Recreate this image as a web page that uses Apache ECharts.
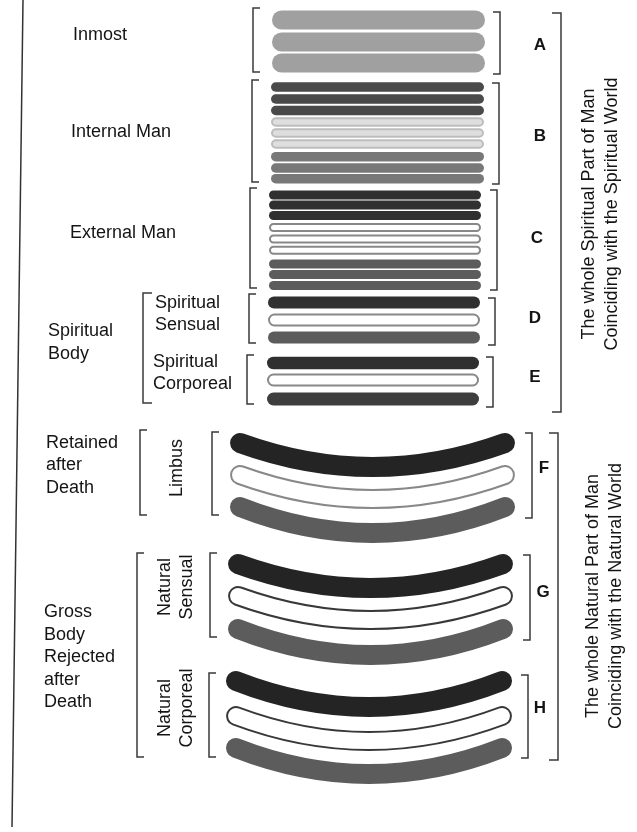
<!DOCTYPE html>
<html><head><meta charset="utf-8">
<script src="https://cdn.jsdelivr.net/npm/echarts@6/dist/echarts.min.js"></script>
<style>html,body{margin:0;padding:0;background:#fff}#c{width:637px;height:832px}</style>
</head><body><div id="c"></div>
<script>
// ---- Diagram data (diagram units = page units) ----
// Flat layers of the spiritual part (groups A-E)
const flatGroupLetters = ['A', 'B', 'C', 'D', 'E'];
const flatGroupLeft = [272, 271, 269, 268, 267];
const flatGroupRight = [485, 484, 481, 480, 479];
const flatCenters = [20, 42, 63,
  87, 99, 110.5, 122, 133, 144, 156.7, 168, 178.7,
  195, 205, 215.5, 227.5, 239, 250.3, 264, 274.5, 285.5,
  302.5, 320, 337.5,
  363, 380, 399];
const flatHeights = [19, 19, 19,
  9.5, 9.5, 9.5, 9.5, 9.5, 9.5, 9.5, 9.5, 9.5,
  9, 9, 9, 9, 9, 9, 9, 9, 9,
  12, 13, 12,
  12.5, 13, 13];
const flatKinds = ['pale', 'pale', 'pale',
  'dark2', 'dark2', 'dark2', 'light', 'light', 'light', 'mid2', 'mid2', 'mid2',
  'dark', 'dark', 'dark', 'outlineLight', 'outlineLight', 'outlineLight', 'mid', 'mid', 'mid',
  'dark', 'outlineLight', 'mid',
  'dark', 'outlineLight', 'darkMid'];
const flatGroupIndex = [0, 0, 0, 1, 1, 1, 1, 1, 1, 1, 1, 1, 2, 2, 2, 2, 2, 2, 2, 2, 2, 3, 3, 3, 4, 4, 4];

// Curved layers of the natural part (groups F-H)
const curveMidY = [467, 499, 533, 588, 620, 655, 707, 741, 774];
const curveSag = [24, 24, 26, 24, 24, 26, 26, 25, 26];
const curveLeft = [240, 240, 240, 238, 238, 238, 236, 236, 236];
const curveRight = [505, 505, 505, 503, 503, 503, 502, 502, 502];
const curveKinds = ['black', 'outlineLight', 'mid', 'black', 'outline', 'mid', 'black', 'outline', 'mid'];

// Group letters
const letterTexts = ['A', 'B', 'C', 'D', 'E', 'F', 'G', 'H'];
const letterX = [540, 540, 537, 535, 535, 544, 543, 540];
const letterY = [45, 136, 238, 318, 377, 468, 592, 708];

// Brackets: x, top, bottom, side (1 = "[" opening right, -1 = "]")
const bracketX = [253, 252, 250, 249, 247, 143, 140, 212, 137, 210, 209,
  500, 499, 497, 495, 493, 532, 530, 528, 561, 558];
const bracketTop = [8, 80, 188, 294, 355, 293, 430, 432, 553, 553, 673,
  12, 83, 190, 298, 357, 433, 555, 675, 13, 433];
const bracketBottom = [72, 182, 288, 343, 404, 403, 515, 515, 757, 637, 757,
  74, 184, 290, 345, 407, 518, 640, 758, 412, 760];
const bracketSide = [1, 1, 1, 1, 1, 1, 1, 1, 1, 1, 1,
  -1, -1, -1, -1, -1, -1, -1, -1, -1, -1];
const bracketTick = [7, 7, 7, 7, 7, 9, 7, 7, 7, 7, 7,
  7, 7, 7, 7, 7, 7, 7, 7, 9, 9];

// Text labels
const labelTexts = ['Inmost', 'Internal Man', 'External Man', 'Spiritual\nBody',
  'Spiritual\nSensual', 'Spiritual\nCorporeal', 'Retained\nafter\nDeath', 'Limbus',
  'Gross\nBody\nRejected\nafter\nDeath', 'Natural\nSensual', 'Natural\nCorporeal',
  'The whole Spiritual Part of Man\nCoinciding with the Spiritual World',
  'The whole Natural Part of Man\nCoinciding with the Natural World'];
const labelX = [73, 71, 70, 48, 155, 153, 46, 177, 44, 176, 176, 601, 605];
const labelY = [35, 132, 233, 342.5, 314, 373, 465.5, 468, 657.5, 587, 708, 214, 596];
const labelRotated = [0, 0, 0, 0, 0, 0, 0, 1, 0, 1, 1, 1, 1];

// Left border line
const borderLine = [[23, 0], [12, 827]];

// ---- Styles ----
const FONT = '"Liberation Sans", Arial, sans-serif';
const kindStyle = {
  pale: { fill: '#a0a0a0' },
  dark2: { fill: '#4a4a4a' },
  light: { fill: '#dedede', stroke: '#bdbdbd' },
  mid2: { fill: '#787878' },
  dark: { fill: '#303030' },
  mid: { fill: '#5c5c5c' },
  darkMid: { fill: '#3e3e3e' },
  black: { fill: '#242424' },
  outlineLight: { fill: '#ffffff', stroke: '#888888' },
  outline: { fill: '#ffffff', stroke: '#383838' }
};

const flatData = flatCenters.map((c, i) => [c, flatHeights[i], i,
  flatGroupLeft[flatGroupIndex[i]], flatGroupRight[flatGroupIndex[i]]]);
const curveData = curveMidY.map((m, i) => [m, curveSag[i], i, curveLeft[i], curveRight[i]]);
const bracketData = bracketX.map((x, i) => [x, bracketTop[i], bracketBottom[i], bracketSide[i], bracketTick[i]]);
const labelData = labelTexts.map((t, i) => [labelX[i], labelY[i], i]);
const letterData = letterTexts.map((t, i) => [letterX[i], letterY[i], i]);

const chart = echarts.init(document.getElementById('c'));
chart.setOption({
  animation: false,
  backgroundColor: '#ffffff',
  grid: { left: 0, right: 0, top: 0, bottom: 0 },
  xAxis: { type: 'value', min: 0, max: 637, show: false },
  yAxis: { type: 'value', min: 0, max: 832, inverse: true, show: false },
  series: [
    {
      type: 'line', data: borderLine, showSymbol: false, silent: true,
      lineStyle: { color: '#333333', width: 1.5 }
    },
    {
      type: 'custom', data: flatData, silent: true,
      renderItem: function (params, api) {
        const c = api.value(0), h = api.value(1), i = api.value(2);
        const p0 = api.coord([api.value(3), c - h / 2]);
        const p1 = api.coord([api.value(4), c + h / 2]);
        const st = kindStyle[flatKinds[i]];
        const hh = p1[1] - p0[1];
        const sw = st.stroke ? 2 : 0;
        return {
          type: 'rect',
          shape: { x: p0[0] + sw / 2, y: p0[1] + sw / 2, width: p1[0] - p0[0] - sw, height: hh - sw, r: (hh - sw) / 2 },
          style: { fill: st.fill, stroke: st.stroke || null, lineWidth: sw }
        };
      }
    },
    {
      type: 'custom', data: curveData, silent: true,
      renderItem: function (params, api) {
        const mid = api.value(0), sag = api.value(1), i = api.value(2);
        const xl = api.value(3), xr = api.value(4);
        const endY = mid - sag;
        const a = api.coord([xl, endY]);
        const b = api.coord([xr, endY]);
        const cp = api.coord([(xl + xr) / 2, endY + 2 * sag]);
        const thick = api.size([0, 20])[1];
        const st = kindStyle[curveKinds[i]];
        const shape = { x1: a[0], y1: a[1], x2: b[0], y2: b[1], cpx1: cp[0], cpy1: cp[1] };
        const children = [];
        if (st.stroke) {
          children.push({ type: 'bezierCurve', shape: shape, style: { stroke: st.stroke, lineWidth: thick, lineCap: 'round', fill: null } });
          children.push({ type: 'bezierCurve', shape: shape, style: { stroke: '#ffffff', lineWidth: thick - 4, lineCap: 'round', fill: null } });
        } else {
          children.push({ type: 'bezierCurve', shape: shape, style: { stroke: st.fill, lineWidth: thick, lineCap: 'round', fill: null } });
        }
        return { type: 'group', children: children };
      }
    },
    {
      type: 'custom', data: bracketData, silent: true,
      renderItem: function (params, api) {
        const x = api.value(0), t = api.value(1), b = api.value(2), s = api.value(3), k = api.value(4);
        const pts = [[x + s * k, t], [x, t], [x, b], [x + s * k, b]].map(p => api.coord(p));
        return { type: 'polyline', shape: { points: pts }, style: { stroke: '#3a3a3a', lineWidth: 1.5, fill: null } };
      }
    },
    {
      type: 'custom', data: labelData, silent: true,
      renderItem: function (params, api) {
        const i = api.value(2);
        const p = api.coord([api.value(0), api.value(1)]);
        const rot = labelRotated[i] ? Math.PI / 2 : 0;
        return {
          type: 'text', x: p[0], y: p[1], rotation: rot,
          style: {
            text: labelTexts[i], fill: '#141414', fontSize: 18, fontFamily: FONT,
            lineHeight: i >= 11 ? 23 : 22.5,
            align: rot ? 'center' : 'left', verticalAlign: 'middle'
          }
        };
      }
    },
    {
      type: 'custom', data: letterData, silent: true,
      renderItem: function (params, api) {
        const i = api.value(2);
        const p = api.coord([api.value(0), api.value(1)]);
        return {
          type: 'text', x: p[0], y: p[1],
          style: { text: letterTexts[i], fill: '#141414', fontSize: 17, fontWeight: 'bold', fontFamily: FONT, align: 'center', verticalAlign: 'middle' }
        };
      }
    }
  ]
});
</script>
</body></html>
